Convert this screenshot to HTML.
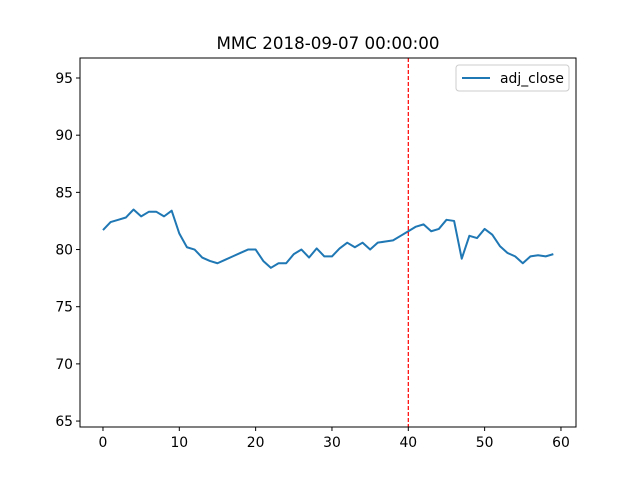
<!DOCTYPE html>
<html><head><meta charset="utf-8"><style>
body{margin:0;background:#fff}
svg{font-family:"DejaVu Sans","Liberation Sans",sans-serif}
</style></head><body>
<svg id="chart" width="640" height="480">
<rect x="0" y="0" width="640" height="480" fill="#fff"/>
<text x="328" y="49" text-anchor="middle" font-size="16.7">MMC 2018-09-07 00:00:00</text>
<g id="ticks"></g>
<g id="plot"></g>
<rect x="80" y="58" width="496" height="369" fill="none" stroke="#000" stroke-width="1"/>
<g>
<rect x="456" y="65" width="113" height="26" rx="3" fill="#fff" stroke="#ccc"/>
<line x1="462" y1="78" x2="490" y2="78" stroke="#1f77b4" stroke-width="2"/>
<text x="500" y="83" font-size="13.9">adj_close</text>
</g>
</svg>
<script>
const xTicks=[0,10,20,30,40,50,60];
const yTicks=[65,70,75,80,85,90,95];
const values=[81.7,82.4,82.6,82.8,83.5,82.9,83.3,83.3,82.9,83.4,81.4,80.2,80.0,79.3,79.0,78.8,79.1,79.4,79.7,80.0,80.0,79.0,78.4,78.8,78.8,79.6,80.0,79.3,80.1,79.4,79.4,80.1,80.6,80.2,80.6,80.0,80.6,80.7,80.8,81.2,81.6,82.0,82.2,81.6,81.8,82.6,82.5,79.2,81.2,81.0,81.8,81.3,80.3,79.7,79.4,78.8,79.4,79.5,79.4,79.6];
const vline=40;
const NS="http://www.w3.org/2000/svg";
const L=80,R=576,T=58,B=427;
const xmin=-3.01,xmax=61.97,ymin=64.48,ymax=96.75;
function sx(v){return L+(v-xmin)/(xmax-xmin)*(R-L);}
function sy(v){return B-(v-ymin)/(ymax-ymin)*(B-T);}
const tg=document.getElementById('ticks'),pg=document.getElementById('plot');
function mk(t,a,p){const e=document.createElementNS(NS,t);for(const k in a)e.setAttribute(k,a[k]);p.appendChild(e);return e;}
xTicks.forEach(v=>{
 const l=mk('line',{x1:sx(v),x2:sx(v),y1:B,y2:B+4,stroke:'#000'},tg);
 
 
 const t=mk('text',{x:sx(v),y:B+20,'text-anchor':'middle','font-size':13.9},tg);t.textContent=v;
 
 
});
yTicks.forEach(v=>{
 const l=mk('line',{x1:L-4,x2:L,y1:sy(v),y2:sy(v),stroke:'#000'},tg);
 
 
 const t=mk('text',{x:L-7,y:sy(v)+5,'text-anchor':'end','font-size':13.9},tg);t.textContent=v;
 
 
});
const p=mk('polyline',{points:values.map((v,i)=>sx(i)+','+sy(v)).join(' '),fill:'none',stroke:'#1f77b4','stroke-width':2,'stroke-linejoin':'round'},pg);


const vl=mk('line',{x1:sx(vline),x2:sx(vline),y1:T,y2:B,stroke:'red','stroke-width':1.2,'stroke-dasharray':'4,2'},pg);


</script>
</body></html>
